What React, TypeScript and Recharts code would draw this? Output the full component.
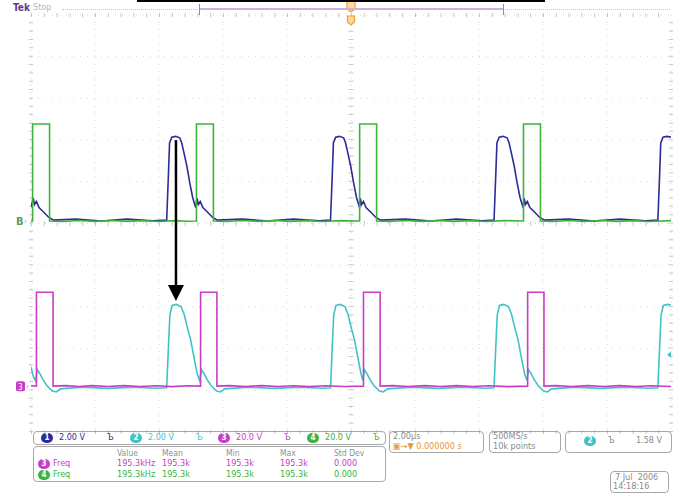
import {
  CartesianGrid,
  Line,
  LineChart,
  ReferenceDot,
  ReferenceLine,
  XAxis,
  YAxis,
} from 'recharts';

// Horizontal: 2 µs/div, 10 divisions. Vertical: 10 divisions.
const timeTicks = [-10, -8, -6, -4, -2, 0, 2, 4, 6, 8, 10];
const divTicks = [-5, -4, -3, -2, -1, 0, 1, 2, 3, 4, 5];

// channel setup: volts per division and ground position (divisions)
const channelIds = ['1', '2', '3', '4'];
const voltsPerDiv = [2, 2, 20, 20];
const groundDiv = [0.08, -3.94, -3.9, 0.06];
const traceColors = ['#2c2c98', '#3ec4c4', '#c83cc8', '#3cb43c'];

// [time µs, volts]
const ch1Points: [number, number][] = [
  [-10, 0.62], [-9.93, 1.05], [-9.89, 0.75], [-9.83, 0.9], [-9.75, 0.6], [-9.6, 0.38],
  [-9.45, 0.14], [-9.3, 0], [-8.6, 0.05], [-7.8, -0.04], [-7.0, 0.05], [-6.2, -0.03],
  [-5.76, 0], [-5.71, 2.0], [-5.67, 3.7], [-5.6, 3.98], [-5.48, 4.02], [-5.35, 3.95],
  [-5.29, 3.7], [-5.23, 3.3], [-5.13, 2.6], [-5.04, 1.8], [-4.95, 1.1], [-4.85, 0.6],
  [-4.81, 1.05], [-4.77, 0.75], [-4.71, 0.9], [-4.63, 0.6], [-4.48, 0.38], [-4.33, 0.14],
  [-4.18, 0], [-3.4, 0.05], [-2.6, -0.04], [-1.8, 0.05], [-1.0, -0.03], [-0.64, 0],
  [-0.59, 2.0], [-0.55, 3.7], [-0.48, 3.98], [-0.36, 4.02], [-0.23, 3.95], [-0.17, 3.7],
  [-0.11, 3.3], [-0.01, 2.6], [0.08, 1.8], [0.17, 1.1], [0.27, 0.6], [0.29, 1.05],
  [0.33, 0.75], [0.39, 0.9], [0.47, 0.6], [0.62, 0.38], [0.77, 0.14], [0.92, 0],
  [1.7, 0.05], [2.5, -0.04], [3.3, 0.05], [4.1, -0.03], [4.47, 0], [4.52, 2.0],
  [4.56, 3.7], [4.63, 3.98], [4.75, 4.02], [4.88, 3.95], [4.94, 3.7], [5.0, 3.3],
  [5.1, 2.6], [5.19, 1.8], [5.28, 1.1], [5.38, 0.6], [5.41, 1.05], [5.45, 0.75],
  [5.51, 0.9], [5.59, 0.6], [5.74, 0.38], [5.89, 0.14], [6.04, 0], [6.8, 0.05],
  [7.6, -0.04], [8.4, 0.05], [9.2, -0.03], [9.59, 0], [9.64, 2.0], [9.68, 3.7],
  [9.75, 3.98], [9.87, 4.02], [10, 3.98],
];

const ch2Points: [number, number][] = [
  [-10, 1.0], [-9.92, 0.5], [-9.86, 0.35], [-9.8, 0.86], [-9.73, 0.7], [-9.63, 0.4],
  [-9.5, 0.1], [-9.33, -0.16], [-9.21, -0.2], [-9.08, -0.05], [-8.4, 0.03], [-7.6, -0.03],
  [-6.8, 0.03], [-6.1, -0.02], [-5.76, 0], [-5.71, 1.8], [-5.66, 3.5], [-5.59, 3.95],
  [-5.46, 4.0], [-5.31, 3.9], [-5.21, 3.5], [-5.1, 2.8], [-5.01, 2.3], [-4.9, 1.4],
  [-4.81, 0.7], [-4.73, 0.35], [-4.67, 0.86], [-4.6, 0.7], [-4.5, 0.4], [-4.37, 0.1],
  [-4.2, -0.16], [-4.08, -0.2], [-3.95, -0.05], [-3.2, 0.03], [-2.4, -0.03], [-1.6, 0.03],
  [-0.9, -0.02], [-0.64, 0], [-0.59, 1.8], [-0.54, 3.5], [-0.47, 3.95], [-0.34, 4.0],
  [-0.19, 3.9], [-0.09, 3.5], [0.02, 2.8], [0.11, 2.3], [0.22, 1.4], [0.31, 0.7],
  [0.37, 0.35], [0.42, 0.86], [0.49, 0.7], [0.59, 0.4], [0.72, 0.1], [0.89, -0.16],
  [1.01, -0.2], [1.14, -0.05], [1.9, 0.03], [2.7, -0.03], [3.5, 0.03], [4.2, -0.02],
  [4.47, 0], [4.52, 1.8], [4.57, 3.5], [4.64, 3.95], [4.77, 4.0], [4.92, 3.9],
  [5.02, 3.5], [5.13, 2.8], [5.22, 2.3], [5.33, 1.4], [5.42, 0.7], [5.5, 0.35],
  [5.55, 0.86], [5.62, 0.7], [5.72, 0.4], [5.85, 0.1], [6.02, -0.16], [6.14, -0.2],
  [6.27, -0.05], [7.0, 0.03], [7.8, -0.03], [8.6, 0.03], [9.3, -0.02], [9.59, 0],
  [9.64, 1.8], [9.69, 3.5], [9.76, 3.95], [9.89, 4.0], [10, 3.97],
];

const ch3Points: [number, number][] = [
  [-10, 0.2], [-9.83, 0], [-9.83, 45], [-9.31, 45], [-9.31, 0], [-8.9, 0.25], [-8.5, -0.2],
  [-8.1, 0.25], [-7.6, -0.15], [-7.1, 0.25], [-6.6, -0.2], [-6.1, 0.2], [-5.6, -0.25],
  [-5.1, 0.2], [-4.7, 0], [-4.7, 45], [-4.19, 45], [-4.19, 0], [-3.8, 0.25], [-3.3, -0.2],
  [-2.8, 0.25], [-2.3, -0.2], [-1.8, 0.2], [-1.3, -0.25], [-0.8, 0.2], [-0.2, -0.2],
  [0.39, 0], [0.39, 45], [0.91, 45], [0.91, 0], [1.3, 0.25], [1.8, -0.2], [2.3, 0.25],
  [2.8, -0.15], [3.3, 0.25], [3.8, -0.2], [4.3, 0.2], [4.9, -0.25], [5.52, 0], [5.52, 45],
  [6.03, 45], [6.03, 0], [6.4, 0.25], [6.9, -0.2], [7.4, 0.25], [7.9, -0.15], [8.4, 0.25],
  [8.9, -0.2], [9.4, 0.2], [10, -0.15],
];

const ch4Points: [number, number][] = [
  [-10, 0.2], [-9.95, 0], [-9.95, 46.5], [-9.42, 46.5], [-9.42, 0], [-9.0, -0.25],
  [-8.5, 0.25], [-8.0, -0.2], [-7.5, 0.25], [-7.0, -0.2], [-6.5, 0.2], [-6.0, -0.25],
  [-5.5, 0.2], [-5.1, -0.15], [-4.83, 0], [-4.83, 46.5], [-4.3, 46.5], [-4.3, 0],
  [-3.9, -0.25], [-3.4, 0.25], [-2.9, -0.2], [-2.4, 0.25], [-1.9, -0.2], [-1.4, 0.2],
  [-0.9, -0.25], [-0.3, 0.2], [0.27, 0], [0.27, 46.5], [0.8, 46.5], [0.8, 0], [1.2, -0.25],
  [1.7, 0.25], [2.2, -0.2], [2.7, 0.25], [3.2, -0.2], [3.7, 0.2], [4.2, -0.25], [4.8, 0.2],
  [5.39, 0], [5.39, 46.5], [5.92, 46.5], [5.92, 0], [6.3, -0.25], [6.8, 0.25], [7.3, -0.2],
  [7.8, 0.25], [8.3, -0.2], [8.8, 0.2], [9.3, -0.25], [10, 0.2],
];

// annotation arrow (divisions): from ch1 peak to ch2 peak
const arrowTime = -5.47;
const arrowFromDiv = 2.0;
const arrowToDiv = -1.86;

const triggerLevel = 1.58; // V on ch2

const scaleRow = [
  { ch: 0, text: '2.00 V' },
  { ch: 1, text: '2.00 V' },
  { ch: 2, text: '20.0 V' },
  { ch: 3, text: '20.0 V' },
];
const measHeaders = ['Value', 'Mean', 'Min', 'Max', 'Std Dev'];
const measCh3 = ['195.3kHz', '195.3k', '195.3k', '195.3k', '0.000'];
const measCh4 = ['195.3kHz', '195.3k', '195.3k', '195.3k', '0.000'];

function toDiv(points: [number, number][], ch: number) {
  return points.map(([t, v]) => ({ t, y: groundDiv[ch] + v / voltsPerDiv[ch] }));
}

const FONT = '"Liberation Sans Narrow", "DejaVu Sans Condensed", "Liberation Sans", sans-serif';
const measCols = [117, 162, 226, 280, 334];
const scaleCols = [41, 130, 218, 307];

function Badge({ ch, x, y }: { ch: number; x: number; y: number }) {
  return (
    <div
      style={{
        position: 'absolute', left: x, top: y, width: 12, height: 10, borderRadius: 5,
        background: traceColors[ch], color: '#fff', fontSize: 8, lineHeight: '10px',
        textAlign: 'center', fontWeight: 'bold',
      }}
    >
      {channelIds[ch]}
    </div>
  );
}

const boxStyle = {
  position: 'absolute' as const,
  border: '1px solid #a8a8a8',
  borderRadius: 4,
  boxSizing: 'border-box' as const,
};

export default function App() {
  const ch1 = toDiv(ch1Points, 0);
  const ch2 = toDiv(ch2Points, 1);
  const ch3 = toDiv(ch3Points, 2);
  const ch4 = toDiv(ch4Points, 3);

  return (
    <div
      style={{
        position: 'absolute', left: 0, top: 0, width: 675, height: 493,
        background: '#fff', overflow: 'hidden', fontFamily: FONT,
      }}
    >
      <LineChart width={675} height={493} margin={{ top: 15, right: 4, bottom: 61, left: 31 }}>
        <XAxis dataKey="t" type="number" domain={[-10, 10]} ticks={timeTicks} hide allowDataOverflow />
        <YAxis type="number" domain={[-5, 5]} ticks={divTicks} hide allowDataOverflow />
        <CartesianGrid stroke="#d8d8d8" strokeDasharray="1 6" />
        {/* graticule tick marks on frame and centre axes */}
        <ReferenceLine x={0} stroke="#c8c8c8" strokeWidth={5} strokeDasharray="1 7.34" />
        <ReferenceLine y={0} stroke="#c8c8c8" strokeWidth={5} strokeDasharray="1 11.8" />
        <ReferenceLine x={-10} stroke="#c8c8c8" strokeWidth={4} strokeDasharray="1 7.34" />
        <ReferenceLine x={10} stroke="#c8c8c8" strokeWidth={4} strokeDasharray="1 7.34" />
        <ReferenceLine y={5} stroke="#c8c8c8" strokeWidth={4} strokeDasharray="1 11.8" />
        <ReferenceLine y={-5} stroke="#c8c8c8" strokeWidth={4} strokeDasharray="1 11.8" />

        <Line data={ch1} dataKey="y" type="linear" stroke={traceColors[0]} strokeWidth={1.6} dot={false} isAnimationActive={false} />
        <Line data={ch4} dataKey="y" type="linear" stroke={traceColors[3]} strokeWidth={1.6} dot={false} isAnimationActive={false} />
        <Line data={ch2} dataKey="y" type="linear" stroke={traceColors[1]} strokeWidth={1.6} dot={false} isAnimationActive={false} />
        <Line data={ch3} dataKey="y" type="linear" stroke={traceColors[2]} strokeWidth={1.6} dot={false} isAnimationActive={false} />

        <ReferenceLine
          segment={[{ x: arrowTime, y: arrowFromDiv }, { x: arrowTime, y: arrowToDiv + 0.3 }]}
          stroke="#000"
          strokeWidth={2.5}
        />
        <ReferenceDot
          x={arrowTime}
          y={arrowToDiv}
          ifOverflow="visible"
          shape={(p: any) => (
            <polygon points={`${p.cx - 8},${p.cy - 16} ${p.cx + 8},${p.cy - 16} ${p.cx},${p.cy}`} fill="#000" />
          )}
        />
        {/* ground markers */}
        <ReferenceDot
          x={-10}
          y={groundDiv[3]}
          ifOverflow="visible"
          shape={(p: any) => (
            <g>
              <text x={p.cx - 15} y={p.cy + 4} fontSize={11} fill="#5c9c5c" fontFamily={FONT} fontWeight="bold">B</text>
              <text x={p.cx - 7} y={p.cy + 3} fontSize={8} fill="#a0a0a0" fontFamily={FONT}>›</text>
            </g>
          )}
        />
        <ReferenceDot
          x={-10}
          y={groundDiv[2]}
          ifOverflow="visible"
          shape={(p: any) => (
            <g>
              <rect x={p.cx - 15} y={p.cy - 5} width={9} height={10} rx={2} fill={traceColors[2]} />
              <text x={p.cx - 13} y={p.cy + 3.5} fontSize={8} fill="#fff" fontFamily={FONT}>3</text>
              <text x={p.cx - 5} y={p.cy + 3} fontSize={8} fill="#a0a0a0" fontFamily={FONT}>›</text>
            </g>
          )}
        />
        {/* trigger level */}
        <ReferenceDot
          x={10}
          y={groundDiv[1] + triggerLevel / voltsPerDiv[1]}
          ifOverflow="visible"
          shape={(p: any) => (
            <polygon points={`${p.cx - 4},${p.cy} ${p.cx},${p.cy - 3} ${p.cx},${p.cy + 3}`} fill={traceColors[1]} />
          )}
        />
        {/* trigger position */}
        <ReferenceDot
          x={0}
          y={5}
          ifOverflow="visible"
          shape={(p: any) => (
            <g>
              <polygon
                points={`${p.cx - 4},${p.cy - 14} ${p.cx + 4},${p.cy - 14} ${p.cx + 4},${p.cy - 6} ${p.cx},${p.cy - 3} ${p.cx - 4},${p.cy - 6}`}
                fill="#fbd9a0"
                stroke="#f0a030"
                strokeWidth={1.2}
              />
              <polygon
                points={`${p.cx - 3.5},${p.cy + 1} ${p.cx + 3.5},${p.cy + 1} ${p.cx + 3.5},${p.cy + 7} ${p.cx},${p.cy + 10} ${p.cx - 3.5},${p.cy + 7}`}
                fill="#fbd9a0"
                stroke="#f0a030"
                strokeWidth={1.2}
              />
            </g>
          )}
        />
      </LineChart>

      {/* header */}
      <div style={{ position: 'absolute', left: 137, top: 0, width: 408, height: 2, background: '#000' }} />
      <div style={{ position: 'absolute', left: 13, top: 2, fontSize: 10, fontWeight: 'bold', color: '#5a3c8c' }}>Tek</div>
      <div style={{ position: 'absolute', left: 33, top: 2, fontSize: 9, color: '#b4b4b4' }}>Stop</div>
      <div style={{ position: 'absolute', left: 62, top: 9, width: 608, height: 0, borderTop: '1px dotted #c8c8c8' }} />
      <div style={{ position: 'absolute', left: 199, top: 8, width: 305, height: 2, background: '#cfb0dc' }} />
      <div style={{ position: 'absolute', left: 199, top: 4, width: 1, height: 11, background: '#909090' }} />
      <div style={{ position: 'absolute', left: 503, top: 4, width: 1, height: 11, background: '#909090' }} />

      {/* vertical scale row */}
      <div style={{ ...boxStyle, left: 33, top: 431, width: 353, height: 14 }} />
      {scaleRow.map((s, i) => (
        <div key={i}>
          <Badge ch={s.ch} x={scaleCols[i]} y={433} />
          <div style={{ position: 'absolute', left: scaleCols[i] + 18, top: 432, fontSize: 9, color: traceColors[s.ch] }}>
            {s.text}
          </div>
          <div style={{ position: 'absolute', left: scaleCols[i] + 66, top: 432, fontSize: 9, color: traceColors[s.ch] }}>
            Ъ
          </div>
        </div>
      ))}

      {/* measurements */}
      <div style={{ ...boxStyle, left: 33, top: 446, width: 353, height: 36 }} />
      {measHeaders.map((h, i) => (
        <div key={h} style={{ position: 'absolute', left: measCols[i], top: 448, fontSize: 8.5, color: '#909090' }}>{h}</div>
      ))}
      <Badge ch={2} x={38} y={459} />
      <div style={{ position: 'absolute', left: 53, top: 458, fontSize: 9, color: traceColors[2] }}>Freq</div>
      {measCh3.map((m, i) => (
        <div key={i} style={{ position: 'absolute', left: measCols[i], top: 458, fontSize: 9, color: traceColors[2] }}>{m}</div>
      ))}
      <Badge ch={3} x={38} y={470} />
      <div style={{ position: 'absolute', left: 53, top: 469, fontSize: 9, color: traceColors[3] }}>Freq</div>
      {measCh4.map((m, i) => (
        <div key={i} style={{ position: 'absolute', left: measCols[i], top: 469, fontSize: 9, color: traceColors[3] }}>{m}</div>
      ))}

      {/* timebase */}
      <div style={{ ...boxStyle, left: 389, top: 431, width: 95, height: 22 }} />
      <div style={{ position: 'absolute', left: 393, top: 431, fontSize: 9, color: '#8a8a8a' }}>2.00µs</div>
      <div style={{ position: 'absolute', left: 393, top: 441, fontSize: 9, color: '#e89a30' }}>▣→▼ 0.000000 s</div>
      <div style={{ ...boxStyle, left: 489, top: 431, width: 72, height: 22 }} />
      <div style={{ position: 'absolute', left: 493, top: 431, fontSize: 9, color: '#8a8a8a' }}>500MS/s</div>
      <div style={{ position: 'absolute', left: 493, top: 441, fontSize: 9, color: '#8a8a8a' }}>10k points</div>
      <div style={{ ...boxStyle, left: 565, top: 431, width: 107, height: 22 }} />
      <Badge ch={1} x={584} y={436} />
      <div style={{ position: 'absolute', left: 608, top: 435, fontSize: 9, color: '#8a8a8a' }}>Ъ</div>
      <div style={{ position: 'absolute', left: 636, top: 435, fontSize: 9, color: '#8a8a8a' }}>1.58 V</div>

      {/* date */}
      <div style={{ ...boxStyle, left: 610, top: 471, width: 59, height: 22 }} />
      <div style={{ position: 'absolute', left: 615, top: 472, fontSize: 9, color: '#8a8a8a' }}>7 Jul&nbsp;&nbsp;2006</div>
      <div style={{ position: 'absolute', left: 613, top: 481, fontSize: 9, color: '#8a8a8a' }}>14:18:16</div>
    </div>
  );
}
